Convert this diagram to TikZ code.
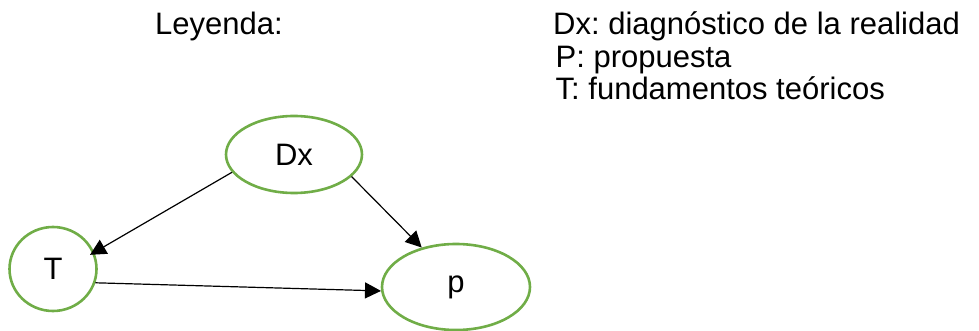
\documentclass[tikz,border=0pt]{standalone}
\usepackage{fontspec}
\setmainfont{Liberation Sans}
\usepackage{tikz}
\usetikzlibrary{arrows.meta, shapes.geometric, positioning}
\definecolor{officegreen}{HTML}{70AD47}
\frenchspacing

\begin{document}
\begin{tikzpicture}[>={Triangle[length=16pt, width=16pt]}, x=1pt, y=-1pt, line/.style={draw=black, line width=#1}, every node/.style={font=\fontsize{31}{33}\selectfont}]
    % Define styles for the ellipses and the legend
    \tikzstyle{stage} = [draw=officegreen, ellipse, line width=2.6pt, inner sep=0pt, fill=white]
    \tikzstyle{legend} = [inner sep=0pt, anchor=base west]

    \useasboundingbox (0,0) rectangle (979,331);

    % Nodes placement
    \node [stage, minimum width=136pt, minimum height=77pt] (Dx) at (294,154.5) {Dx};
    \node [stage, minimum width=87pt, minimum height=84pt] (T) at (53,269) {T};
    \node [stage, minimum width=148pt, minimum height=86pt] (p) at (456,287) {p};

    % Legend
    \node [legend] (leyenda) at (155,35) {Leyenda:};
    \node [legend] (legDx) at (553,35) {Dx: diagnóstico de la realidad};
    \node [legend] (legP) at ([xshift=2.5pt, yshift=-32.5pt]legDx.base west) {P: propuesta};
    \node [legend] (legT) at ([yshift=-32.5pt]legP.base west) {T: fundamentos teóricos};

    % Draw edges
    \draw[line=1.2pt,->, shorten >=-5pt] (Dx.196) -- (T.22);
    \draw[line=1.2pt,->] (Dx.339) -- (p.131);
    \draw[line=1.2pt,->] (T.342) -- (p.183);
\end{tikzpicture}
\end{document}
